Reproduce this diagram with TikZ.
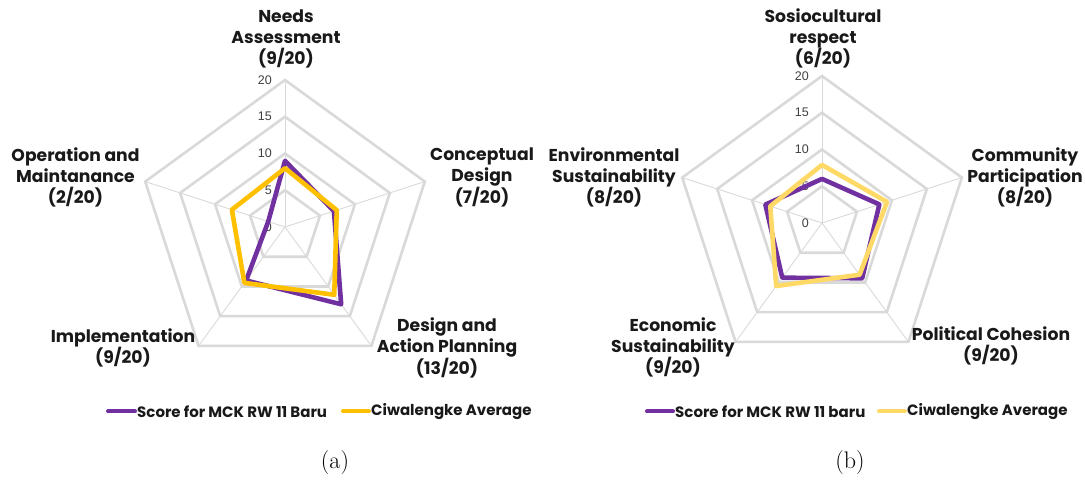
\documentclass[tikz,border=0pt]{standalone}
\usepackage{fontspec}
\newfontfamily\labelfont{Poppins}
\newfontfamily\tickfont{Liberation Sans}
\usetikzlibrary{positioning}
\definecolor{scorepurple}{HTML}{7030A0}
\definecolor{avggold}{HTML}{FFC000}
\definecolor{avglight}{HTML}{FFD966}
\definecolor{gridgray}{HTML}{D9D9D9}
\newcommand{\scoreunit}{7.35}
\tikzset{
	ring/.style={
		draw=gridgray,
		line width=2.6pt},
	spoke/.style={
		draw=gridgray,
		line width=0.9pt},
	series/.style={
		line width=4.6pt,
		line join=round},
	axislabel/.style={
		font=\labelfont\bfseries\fontsize{17.2}{21}\selectfont,
		text=black!90,
		align=center,
		inner sep=0pt},
	ticklabel/.style={
		font=\tickfont\fontsize{12.5}{14}\selectfont,
		text=black!75,
		anchor=east,
		inner sep=0pt},
	legendtext/.style={
		font=\labelfont\bfseries\fontsize{15}{17}\selectfont,
		text=black!90,
		anchor=west,
		inner sep=0pt},
	keyline/.style={
		line width=4pt,
		line cap=round},
	captiontext/.style={
		font=\fontsize{24}{26}\selectfont}
}

\begin{document}
\begin{tikzpicture}[x=1pt,y=1pt]
\useasboundingbox (0,0) rectangle (1085,481);

\coordinate (ca) at (285,254);
\coordinate (cb) at (822,258);

\begin{scope}[shift={(ca)}]
\foreach \r in {5,10,15,20}
	\draw[ring] (90:\r*\scoreunit) -- (18:\r*\scoreunit) -- (-54:\r*\scoreunit) -- (-126:\r*\scoreunit) -- (162:\r*\scoreunit) -- cycle;
\foreach \a in {90,18,-54,-126,162}
	\draw[spoke] (0,0) -- (\a:20*\scoreunit);
\foreach \r in {0,5,...,20}
	\node[ticklabel] at (-13,\r*\scoreunit) {\r};
\draw[series, scorepurple] (90:9*\scoreunit) -- (18:7*\scoreunit) -- (-54:13*\scoreunit) -- (-126:9*\scoreunit) -- (162:2.4*\scoreunit) -- cycle;
\draw[series, avggold] (90:8*\scoreunit) -- (18:7.4*\scoreunit) -- (-54:11.4*\scoreunit) -- (-126:9.4*\scoreunit) -- (162:7.6*\scoreunit) -- cycle;
\end{scope}

\begin{scope}[shift={(cb)}]
\foreach \r in {5,10,15,20}
	\draw[ring] (90:\r*\scoreunit) -- (18:\r*\scoreunit) -- (-54:\r*\scoreunit) -- (-126:\r*\scoreunit) -- (162:\r*\scoreunit) -- cycle;
\foreach \a in {90,18,-54,-126,162}
	\draw[spoke] (0,0) -- (\a:20*\scoreunit);
\foreach \r in {0,5,...,20}
	\node[ticklabel] at (-13,\r*\scoreunit) {\r};
\draw[series, scorepurple] (90:6*\scoreunit) -- (18:8.2*\scoreunit) -- (-54:9.3*\scoreunit) -- (-126:9.2*\scoreunit) -- (162:8.1*\scoreunit) -- cycle;
\draw[series, avglight] (90:7.9*\scoreunit) -- (18:9.3*\scoreunit) -- (-54:8.7*\scoreunit) -- (-126:10.6*\scoreunit) -- (162:7.4*\scoreunit) -- cycle;
\end{scope}

\node[axislabel] (needs) at (286,442.5) {Needs\\Assessment\\(9/20)};
\node[axislabel] (concept) at (482,304) {Conceptual\\Design\\(7/20)};
\node[axislabel] (design) at (447,133.5) {Design and\\Action Planning\\(13/20)};
\node[axislabel] (impl) at (123,133.5) {Implementation\\(9/20)};
\node[axislabel] (opmaint) at (75.5,303.5) {Operation and\\Maintanance\\(2/20)};

\node[axislabel] (socio) at (823,442.5) {Sosiocultural\\respect\\(6/20)};
\node[axislabel] (commun) at (1025,304) {Community\\Participation\\(8/20)};
\node[axislabel] (polit) at (991,135.5) {Political Cohesion\\(9/20)};
\node[axislabel] (econ) at (673,134) {Economic\\Sustainability\\(9/20)};
\node[axislabel] (envir) at (614,304) {Environmental\\Sustainability\\(8/20)};

\node[legendtext] (keyA1) at (137,69.5) {Score for MCK RW 11 Baru};
\node[legendtext] (keyA2) at (371,69.5) {Ciwalengke Average};
\coordinate (swA1) at (108,69.5);
\coordinate (swA2) at (343,69.5);
\draw[keyline, scorepurple] (swA1) -- ([xshift=-2pt]keyA1.west);
\draw[keyline, avggold] (swA2) -- ([xshift=-2pt]keyA2.west);

\node[legendtext] (keyB1) at (675,69.5) {Score for MCK RW 11 baru};
\node[legendtext] (keyB2) at (907,69.5) {Ciwalengke Average};
\coordinate (swB1) at (647,69.5);
\coordinate (swB2) at (879,69.5);
\draw[keyline, scorepurple] (swB1) -- ([xshift=-2pt]keyB1.west);
\draw[keyline, avglight] (swB2) -- ([xshift=-2pt]keyB2.west);

\node[captiontext] (capA) at (335,18) {(a)};
\node[captiontext] (capB) at (850,18) {(b)};
\end{tikzpicture}
\end{document}
